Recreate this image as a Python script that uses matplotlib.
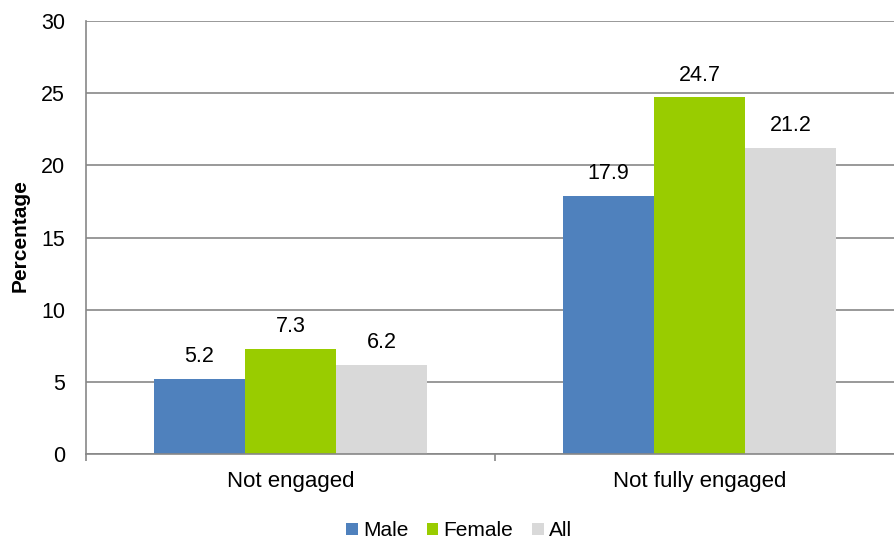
import numpy as np
import matplotlib.pyplot as plt

# donnees
categories = ['Not engaged', 'Not fully engaged']
series = ['Male', 'Female', 'All']
male = [5.2, 17.9]
female = [7.3, 24.7]
all_ = [6.2, 21.2]
colors = ['#4F81BD', '#99CC00', '#D9D9D9']

plt.rcParams['font.family'] = ['Liberation Sans', 'DejaVu Sans']

fig = plt.figure(figsize=(8.94, 5.4), dpi=100)
ax = fig.add_axes([86 / 894, 86 / 540, 818 / 894, 433 / 540])

x = np.arange(len(categories))
w = 0.2225
for i, (vals, name, c) in enumerate(zip([male, female, all_], series, colors)):
    bars = ax.bar(x + (i - 1) * w, vals, w, color=c, label=name, zorder=3)
    for b, v in zip(bars, vals):
        ax.annotate(f'{v:.1f}', (b.get_x() + b.get_width() / 2, v),
                    xytext=(0, 8.5), textcoords='offset points',
                    ha='center', va='bottom', fontsize=15.5)

ax.set_ylim(0, 30)
ax.set_yticks(range(0, 31, 5))
ax.set_xlim(-0.5, 1.5)
ax.set_xticks(x)
ax.set_xticklabels(categories)
ax.set_xticks([-0.5, 0.5, 1.5], minor=True)
ax.tick_params(axis='x', which='major', length=0, pad=12, labelsize=16)
ax.tick_params(axis='x', which='minor', length=5, width=1.2, color='#878787')
ax.tick_params(axis='y', length=0, pad=15, labelsize=15.5)

ax.grid(axis='y', color='#878787', linewidth=1.2, zorder=0)
for s in ['top', 'right']:
    ax.spines[s].set_visible(False)
for s in ['left', 'bottom']:
    ax.spines[s].set_color('#878787')
    ax.spines[s].set_linewidth(1.2)
ax.spines['bottom'].set_zorder(4)

fig.text(20 / 894, 1 - 236 / 540, 'Percentage', rotation=90, fontsize=15,
         fontweight='bold', ha='center', va='center')

fig.legend(loc='center', bbox_to_anchor=(459 / 894, 1 - 531 / 540), ncol=3,
           frameon=False, fontsize=15, handlelength=0.55, handleheight=0.55,
           handletextpad=0.25, columnspacing=0.9, borderpad=0)

plt.savefig('out.png', dpi=100)
